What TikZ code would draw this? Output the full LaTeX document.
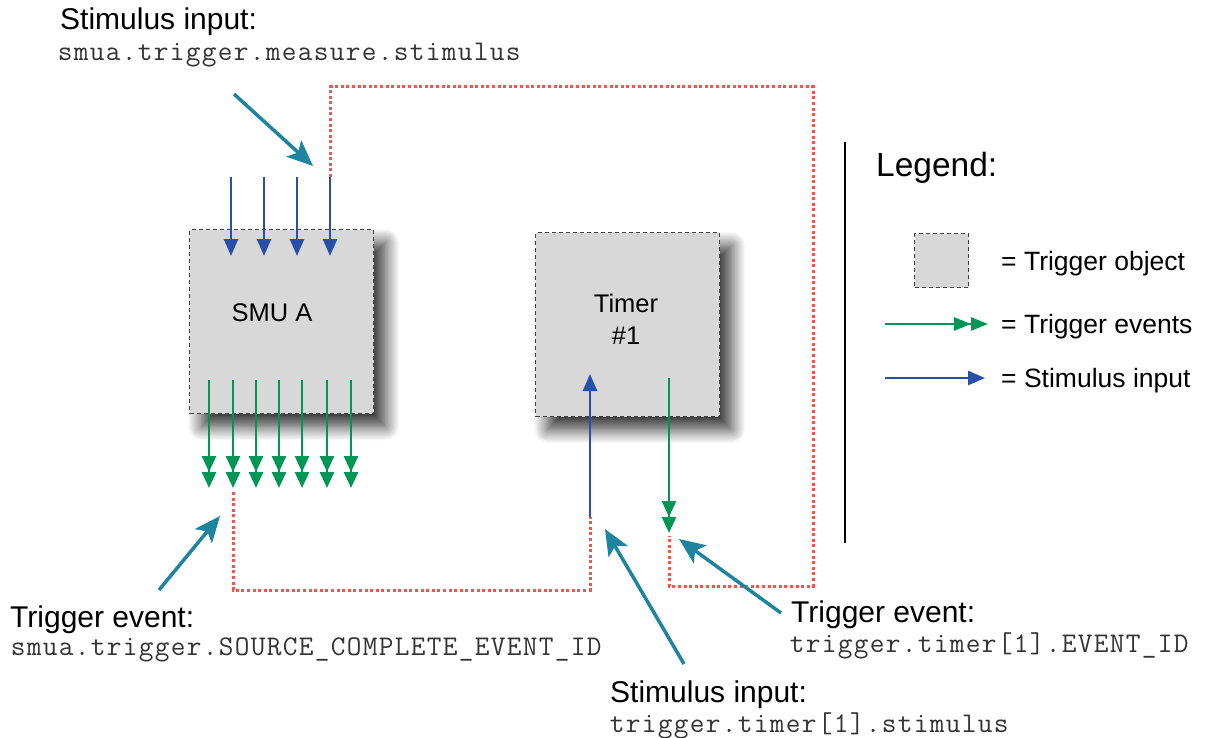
\documentclass[tikz,border=0pt]{standalone}
\usepackage{fontspec}
\setmainfont{Liberation Sans}
\usetikzlibrary{arrows.meta,shadows.blur}
\definecolor{stimblue}{RGB}{40,80,170}
\definecolor{evgreen}{RGB}{0,150,85}
\definecolor{noteteal}{RGB}{30,132,160}
\definecolor{linkred}{RGB}{242,85,75}
\definecolor{boxgray}{RGB}{216,216,216}
\makeatletter
\newcommand\fixmono[1]{\@tfor\mychar:=#1\do{\makebox[16pt][c]{\mychar}}}
\makeatother
\begin{document}
\begin{tikzpicture}[x=1pt,y=-1pt,
  trigbox/.style={draw=black!75, dash pattern=on 4pt off 3pt, line width=1.2pt,
    fill=boxgray, minimum width=184pt, minimum height=184pt, inner sep=0pt,
    anchor=north west},
  shadowed/.style={blur shadow={shadow xshift=12pt, shadow yshift=-13pt,
    shadow blur radius=14pt, shadow blur steps=16, shadow opacity=80}},
  stim/.style={draw=stimblue, line width=2.6pt, -{Triangle[length=17pt,width=14pt]}},
  ev/.style={draw=evgreen, line width=2.6pt,
    -{Triangle[length=16pt,width=14pt,sep=0pt]Triangle[length=16pt,width=14pt]}},
  note/.style={draw=noteteal, line width=3.5pt, -{Stealth[length=26pt,width=22pt,inset=6pt]}},
  link/.style={draw=linkred, line width=3pt, dash pattern=on 3pt off 2.6pt},
  lbl/.style={inner sep=0pt, anchor=base west, font=\fontsize{30}{34}\selectfont},
  code/.style={inner sep=0pt, anchor=base west, text=black!80,
    font=\fontsize{28.5}{32}\selectfont\ttfamily},
  boxlbl/.style={inner sep=0pt, anchor=base, font=\fontsize{25.5}{30}\selectfont},
  leglbl/.style={inner sep=0pt, anchor=base west, font=\fontsize{26.5}{30}\selectfont}
]
\useasboundingbox (0,0) rectangle (1209,738);

% trigger objects
\node[trigbox, shadowed] (smu) at (189,229) {};
\node[trigbox, shadowed] (timer) at (535,232) {};
\node[boxlbl] (smulbl) at (272,321) {SMU A};
\node[boxlbl] (timerlbl) at (626,312) {Timer};
\node[boxlbl] (timernum) at (626,344) {\#1};

% stimulus inputs into SMU A
\foreach \i/\x in {1/231,2/264,3/297,4/330}{
  \coordinate (sin\i) at (\x,177);
  \coordinate (sie\i) at (\x,256);
  \draw[stim] (sin\i) -- (sie\i);
}
% trigger events out of SMU A
\foreach \i/\x in {1/209,2/233,3/256,4/279,5/302,6/327,7/351}{
  \coordinate (evs\i) at (\x,380);
  \coordinate (eve\i) at (\x,488);
  \draw[ev] (evs\i) -- (eve\i);
}
% timer arrows
\coordinate (tstimS) at (590,517);
\coordinate (tstimE) at (590,374);
\draw[stim] (tstimS) -- (tstimE);
\coordinate (tevS) at (669,378);
\coordinate (tevE) at (669,533);
\draw[ev] (tevS) -- (tevE);

% red dotted links
\coordinate (l1a) at (233,492);
\coordinate (l1b) at (590,590);
\draw[link] (l1a) |- (l1b) -- (tstimS);
\coordinate (l2a) at (813,87);
\coordinate (l2b) at (813,586);
\coordinate (l2c) at (669,536);
\draw[link] (sin4) |- (l2a) -- (l2b) -| (l2c);

% annotation arrows
\coordinate (n1s) at (234,94);   \coordinate (n1e) at (313,166);
\coordinate (n2s) at (159,590);  \coordinate (n2e) at (220,516);
\coordinate (n3s) at (684,664);  \coordinate (n3e) at (605,529);
\coordinate (n4s) at (781,613);  \coordinate (n4e) at (679,539);
\draw[note] (n1s) -- (n1e);
\draw[note] (n2s) -- (n2e);
\draw[note] (n3s) -- (n3e);
\draw[note] (n4s) -- (n4e);

% labels
\node[lbl]  (t1a) at (60,30)   {Stimulus input:};
\node[code] (t1b) at (57,61)   {\fixmono{smua.trigger.measure.stimulus}};
\node[lbl]  (t2a) at (10,627)  {Trigger event:};
\node[code] (t2b) at (10,655)  {\fixmono{smua.trigger.SOURCE\_COMPLETE\_EVENT\_ID}};
\node[lbl]  (t3a) at (610,702) {Stimulus input:};
\node[code] (t3b) at (609,732) {\fixmono{trigger.timer[1].stimulus}};
\node[lbl]  (t4a) at (791,622) {Trigger event:};
\node[code] (t4b) at (789,652) {\fixmono{trigger.timer[1].EVENT\_ID}};

% legend
\coordinate (lgtop) at (845,142);
\coordinate (lgbot) at (845,543);
\draw[line width=2.5pt] (lgtop) -- (lgbot);
\node[inner sep=0pt, anchor=base west, font=\fontsize{33.5}{38}\selectfont] (legend) at (876,177) {Legend:};
\node[draw=black!75, dash pattern=on 4pt off 3pt, line width=1.2pt, fill=boxgray,
  minimum width=54pt, minimum height=54pt, inner sep=0pt, anchor=north west] (legbox) at (914,233) {};
\node[leglbl] (lg1) at (1001,270) {= Trigger object};
\coordinate (lgevS) at (885,324); \coordinate (lgevE) at (988,324);
\draw[evgreen, line width=2.6pt, -{Triangle[length=17pt,width=13pt,sep=0pt]Triangle[length=17pt,width=13pt]}] (lgevS) -- (lgevE);
\node[leglbl] (lg2) at (1001,333) {= Trigger events};
\coordinate (lgstS) at (885,378); \coordinate (lgstE) at (985,378);
\draw[stim] (lgstS) -- (lgstE);
\node[leglbl] (lg3) at (1001,387) {= Stimulus input};
\end{tikzpicture}
\end{document}
